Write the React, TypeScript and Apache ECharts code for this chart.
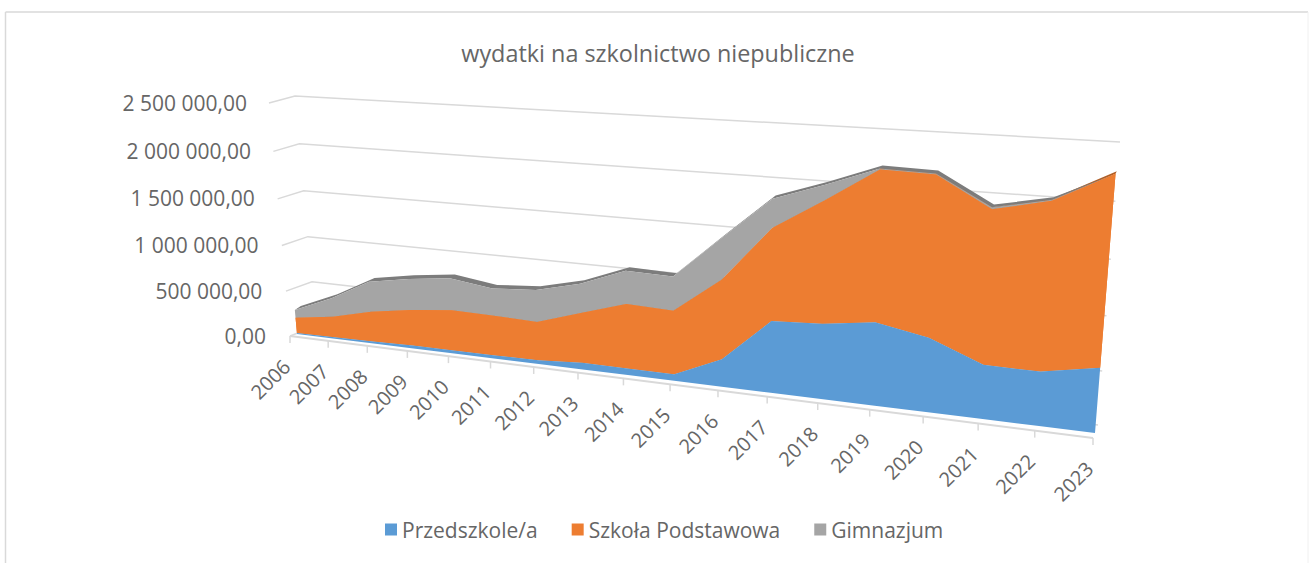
import React, { useEffect, useRef } from "react";
import * as echarts from "echarts";

const chartTitle = "wydatki na szkolnictwo niepubliczne";
const years = ["2006","2007","2008","2009","2010","2011","2012","2013","2014","2015","2016","2017","2018","2019","2020","2021","2022","2023"];
const przedszkole = [11000,16000,21000,31000,31000,35000,40000,69000,68000,67000,274000,699000,725000,789000,697000,502000,497000,590000];
const szkolaPodstawowa = [172000,228000,325000,383000,429000,418000,398000,511000,650000,632000,774000,876000,1139000,1378000,1457000,1383000,1495000,1659000];
const gimnazjum = [86000,202000,325000,331000,337000,282000,329000,295000,330000,335000,396000,270000,138000,9000,9000,18000,8000,0];
const yTickValues = [0,500000,1000000,1500000,2000000,2500000];
const yTickLabels = ["0,00","500 000,00","1 000 000,00","1 500 000,00","2 000 000,00","2 500 000,00"];
const seriesNames = ["Przedszkole/a","Szkoła Podstawowa","Gimnazjum"];

type Pt = [number, number];
// quad corners: bottom-left, bottom-right, top-left, top-right
function homography(p00: Pt, p10: Pt, p01: Pt, p11: Pt) {
  const dx1 = p10[0] - p11[0], dx2 = p01[0] - p11[0], sx = p00[0] - p10[0] + p11[0] - p01[0];
  const dy1 = p10[1] - p11[1], dy2 = p01[1] - p11[1], sy = p00[1] - p10[1] + p11[1] - p01[1];
  const den = dx1 * dy2 - dx2 * dy1;
  const g = (sx * dy2 - dx2 * sy) / den;
  const h = (dx1 * sy - sx * dy1) / den;
  const a = p10[0] - p00[0] + g * p10[0], b = p01[0] - p00[0] + h * p01[0], c = p00[0];
  const d = p10[1] - p00[1] + g * p10[1], e = p01[1] - p00[1] + h * p01[1], f = p00[1];
  return (u: number, v: number): Pt => {
    const w = g * u + h * v + 1;
    return [(a * u + b * v + c) / w, (d * u + e * v + f) / w];
  };
}

const GRID = { left: 100, top: 60, width: 1000, height: 400 };
const frontPlane = homography([290, 336], [1093, 438], [269, 103], [1116, 149]);
const areaPlane = homography([297, 334], [1095, 433], [276, 101], [1118, 143]);
const areaBack = homography([303, 330], [1096.2, 430.5], [282, 97], [1119.2, 140.5]);
const wallPlane = homography([316, 326], [1098, 425], [295, 96], [1120, 142]);

const toUnit = (c: number[]): Pt => [
  (c[0] - GRID.left) / GRID.width,
  (GRID.top + GRID.height - c[1]) / GRID.height,
];

const FONT = '"Open Sans", "Noto Sans", sans-serif';
const TEXT = "#666666";
const LINE = "#d9d9d9";

const sum = (arrs: number[][]) => years.map((_, i) => arrs.reduce((s, a) => s + a[i], 0));
const stack0 = years.map(() => 0);
const stack1 = przedszkole;
const stack2 = sum([przedszkole, szkolaPodstawowa]);
const stack3 = sum([przedszkole, szkolaPodstawowa, gimnazjum]);

function areaSeries(
  name: string,
  color: string,
  lower: number[],
  upper: number[],
  own: number[],
  bandColor: string | null,
  z: number,
) {
  return {
    name,
    type: "custom",
    coordinateSystem: "cartesian2d",
    silent: true,
    z,
    itemStyle: { color },
    data: own.map((v, i) => [i, v]),
    renderItem: (params: any, api: any) => {
      if (params.dataIndex !== 0) return null;
      const upU = upper.map((v, i) => toUnit(api.coord([i, v])));
      const loU = lower.map((v, i) => toUnit(api.coord([i, v])));
      const front = upU.map((p) => areaPlane(p[0], p[1]));
      const bottom = loU.map((p) => areaPlane(p[0], p[1])).reverse();
      const children: any[] = [];
      if (bandColor) {
        const back = upU.map((p, i) => (own[i] === 0 ? areaPlane(p[0], p[1]) : areaBack(p[0], p[1])));
        children.push({
          type: "polygon",
          shape: { points: [...front, ...back.slice().reverse()] },
          style: { fill: bandColor },
        });
      }
      children.push({
        type: "polygon",
        shape: { points: [...front, ...bottom] },
        style: { fill: color },
      });
      return { type: "group", children };
    },
  };
}

export default function App() {
  const ref = useRef<HTMLDivElement>(null);
  useEffect(() => {
    document.body.style.margin = "0";
    document.documentElement.style.overflow = "hidden";
    const chart = echarts.init(ref.current!, null, { renderer: "svg" });
    chart.setOption({
      animation: false,
      backgroundColor: "#ffffff",
      title: {
        text: chartTitle,
        left: 653,
        top: 36,
        textAlign: "center",
        textStyle: { color: TEXT, fontFamily: FONT, fontSize: 23.4, fontWeight: "normal" },
      },
      legend: {
        data: seriesNames,
        left: 380,
        top: 514,
        icon: "rect",
        itemWidth: 12,
        itemHeight: 12,
        itemGap: 34,
        textStyle: { color: TEXT, fontFamily: FONT, fontSize: 21 },
      },
      grid: { ...GRID },
      xAxis: { type: "category", data: years, boundaryGap: false, show: false },
      yAxis: { type: "value", min: 0, max: 2500000, interval: 500000, show: false },
      graphic: [
        { type: "line", silent: true, shape: { x1: 5.5, y1: 12, x2: 1308, y2: 12 }, style: { stroke: LINE, lineWidth: 1.5 } },
        { type: "line", silent: true, shape: { x1: 5.5, y1: 12, x2: 5.5, y2: 563 }, style: { stroke: LINE, lineWidth: 1.5 } },
        { type: "line", silent: true, shape: { x1: 1308, y1: 12, x2: 1308, y2: 563 }, style: { stroke: "#f0f0f0", lineWidth: 1 } },
      ],
      series: [
        {
          name: "osie-y",
          type: "custom",
          coordinateSystem: "cartesian2d",
          silent: true,
          z: 1,
          data: yTickValues.map((v) => [0, v]),
          renderItem: (params: any, api: any) => {
            const v = api.value(1);
            const [, vv] = toUnit(api.coord([0, v]));
            const a = frontPlane(0, vv);
            const b = wallPlane(0, vv);
            const c = wallPlane(1, vv);
            return {
              type: "group",
              children: [
                { type: "polyline", shape: { points: [a, b, c] }, style: { stroke: LINE, lineWidth: 1.5, fill: "none" } },
                {
                  type: "text",
                  x: a[0] - 24 + 2 * vv,
                  y: a[1] - 0.5,
                  style: {
                    text: yTickLabels[params.dataIndex],
                    fill: TEXT,
                    font: `21px ${FONT}`,
                    align: "right",
                    verticalAlign: "middle",
                  },
                },
              ],
            };
          },
        },
        {
          name: "osie-x",
          type: "custom",
          coordinateSystem: "cartesian2d",
          silent: true,
          z: 1,
          data: years.map((_, i) => [i, 0]),
          renderItem: (params: any, api: any) => {
            const i = params.dataIndex;
            const [u, v] = toUnit(api.coord([i, 0]));
            const a = frontPlane(u, v);
            const children: any[] = [
              { type: "line", shape: { x1: a[0], y1: a[1], x2: a[0], y2: a[1] + 7 }, style: { stroke: LINE, lineWidth: 1.5 } },
              {
                type: "text",
                x: a[0] - 3.5,
                y: a[1] + 27,
                rotation: Math.PI / 4,
                style: { text: years[i], fill: TEXT, font: `20px ${FONT}`, align: "right", verticalAlign: "middle" },
              },
            ];
            if (i === 0) {
              const e = frontPlane(1, v);
              children.push({ type: "line", shape: { x1: a[0], y1: a[1], x2: e[0], y2: e[1] }, style: { stroke: LINE, lineWidth: 2 } });
            }
            return { type: "group", children };
          },
        },
        areaSeries(seriesNames[1], "#ed7d31", stack1, stack2, szkolaPodstawowa, "#b35e24", 2),
        areaSeries(seriesNames[2], "#a5a5a5", stack2, stack3, gimnazjum, "#7c7c7c", 3),
        areaSeries("front-szkola", "#ed7d31", stack1, stack2, szkolaPodstawowa, null, 4),
        areaSeries(seriesNames[0], "#5b9bd5", stack0, stack1, przedszkole, null, 5),
      ],
    });
    return () => chart.dispose();
  }, []);
  return <div ref={ref} style={{ width: 1309, height: 563 }} />;
}
